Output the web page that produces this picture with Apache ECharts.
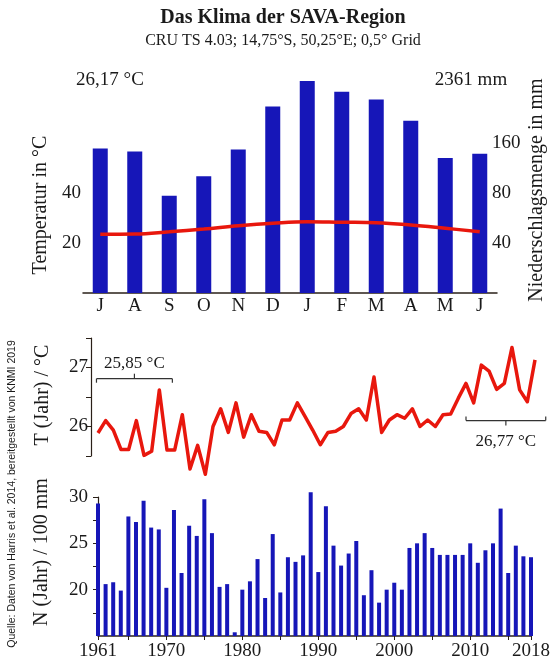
<!DOCTYPE html>
<html><head><meta charset="utf-8">
<script src="https://cdn.jsdelivr.net/npm/echarts@6/dist/echarts.min.js"></script>
<style>html,body{margin:0;padding:0;background:#fff}#c{width:553px;height:671px}</style>
</head><body><div id="c"></div>
<script>
// ---- data ----
const months = ['J','A','S','O','N','D','J','F','M','A','M','J'];
const monthPrecip = [148,142,77,101,146,265,378,326,292,218,130,138];
const monthTemp = [23.5,23.6,24.5,25.6,26.9,27.9,28.5,28.3,28.1,27.2,25.9,24.5];
const tempTicksLeft = [20,40];
const precipTicksRight = [40,80,160];
const years = [];
for (let y = 1961; y <= 2018; y++) years.push(y);
const annualTemp = [25.89,26.10,25.94,25.61,25.61,26.10,25.51,25.58,26.62,25.60,
  25.60,26.20,25.28,25.68,25.19,26.00,26.30,25.90,26.40,25.82,
  26.20,25.92,25.90,25.69,26.11,26.11,26.40,26.17,25.94,25.69,
  25.90,25.92,26.00,26.22,26.30,26.11,26.84,25.90,26.11,26.20,
  26.14,26.30,26.00,26.11,26.00,26.20,26.21,26.48,26.73,26.40,
  27.04,26.94,26.63,26.73,27.34,26.62,26.42,27.13];
const annualPrecip = [29.3,20.6,20.8,19.9,27.9,27.3,29.6,26.7,26.5,20.2,
  28.6,21.8,26.9,25.8,29.75,26.1,20.3,20.6,15.4,20.0,
  20.9,23.3,19.1,26.0,19.7,23.5,23.0,23.7,30.5,21.9,
  29.0,24.75,22.6,23.9,25.25,19.4,22.1,18.6,20.0,20.75,
  20.0,24.5,25.0,26.1,24.5,23.75,23.75,23.75,23.75,25.0,
  22.9,24.25,25.0,28.75,21.8,24.75,23.6,23.5];
const yearLabels = [1961,1970,1980,1990,2000,2010,2018];
const meanSpans = [
  {from:1960.8, to:1970.7, at:26.81, text:'25,85 °C', above:true},
  {from:2009, to:2019.4, at:26.10, text:'26,77 °C', above:false}
];

// ---- chart ----
const SERIF = "'Liberation Serif','Times New Roman',serif";
const INK = '#1a1a1a';
const AX = '#2a2018';
const BLUE = '#1616b8';
const RED = '#e8170d';
const chart = echarts.init(document.getElementById('c'));

const topMax = 88;
const pxPerUnit = 139 / 15;
const nMax = 31;
const option = {
  animation: false,
  backgroundColor: '#ffffff',
  textStyle: {fontFamily: SERIF, color: INK},
  grid: [
    {left: 83, right: 56, top: 73, height: 220},
    {left: 98, right: 18, top: 338, height: 118},
    {left: 98, right: 18, top: 636 - (nMax - 15) * pxPerUnit, height: (nMax - 15) * pxPerUnit},
    {left: 98, right: 18, top: 497, height: 12.5 * pxPerUnit}
  ],
  xAxis: [
    {gridIndex: 0, type: 'category', data: months, boundaryGap: true,
     axisLine: {show: true, lineStyle: {color: AX, width: 1.5}},
     axisTick: {show: false},
     axisLabel: {fontFamily: SERIF, fontSize: 19, color: INK, margin: 4}},
    {gridIndex: 1, type: 'value', min: 1961, max: 2018, show: false},
    {gridIndex: 2, type: 'category', data: years.map(String), boundaryGap: false,
     axisLine: {show: true, lineStyle: {color: AX, width: 1.5}},
     axisTick: {show: true, length: 4, lineStyle: {color: AX},
       interval: (i, v) => { const y = Number(v); return y % 5 === 0 || y === 1961 || y === 2018; }},
     axisLabel: {fontFamily: SERIF, fontSize: 19, color: INK, margin: 6,
       interval: (i, v) => yearLabels.includes(Number(v))}},
    {gridIndex: 3, type: 'value', min: 0, max: 1, show: false}
  ],
  yAxis: [
    {gridIndex: 0, type: 'value', min: 0, max: topMax, interval: 20,
     axisLine: {show: false}, axisTick: {show: false}, splitLine: {show: false},
     axisLabel: {fontFamily: SERIF, fontSize: 19, color: INK, margin: 2,
       formatter: v => tempTicksLeft.includes(v) ? String(v) : ''}},
    {gridIndex: 0, type: 'log', logBase: 2, min: 20, max: 20 * Math.pow(2, topMax / 20), show: false},
    {gridIndex: 0, type: 'value', min: 0, max: topMax, interval: 20, position: 'right',
     axisLine: {show: false}, axisTick: {show: false}, splitLine: {show: false},
     axisLabel: {fontFamily: SERIF, fontSize: 19, color: INK, margin: -5,
       formatter: v => { const p = Math.round(20 * Math.pow(2, v / 20)); return precipTicksRight.includes(p) ? String(p) : ''; }}},
    {gridIndex: 1, type: 'value', min: 25.5, max: 27.5, interval: 0.5, offset: 7,
     axisLine: {show: true, lineStyle: {color: AX, width: 1.2}},
     axisTick: {show: true, length: 5, lineStyle: {color: AX}},
     splitLine: {show: false},
     axisLabel: {fontFamily: SERIF, fontSize: 19, color: INK, margin: 3,
       formatter: v => Number.isInteger(v) ? String(v) : ''}},
    {gridIndex: 2, type: 'value', min: 15, max: nMax, show: false},
    {gridIndex: 3, type: 'value', min: 17.5, max: 30, interval: 2.5, offset: 7,
     axisLine: {show: true, lineStyle: {color: AX, width: 1.2}},
     axisTick: {show: true, length: 5, lineStyle: {color: AX}},
     splitLine: {show: false},
     axisLabel: {fontFamily: SERIF, fontSize: 19, color: INK, margin: 3,
       formatter: v => (v % 5 === 0) ? String(v) : ''}}
  ],
  series: [
    {type: 'bar', xAxisIndex: 0, yAxisIndex: 1, data: monthPrecip, barWidth: 15,
     itemStyle: {color: BLUE}, clip: true, z: 2},
    {type: 'line', xAxisIndex: 0, yAxisIndex: 0, data: monthTemp, smooth: 0.4,
     symbol: 'none', lineStyle: {color: RED, width: 3.5}, z: 3},
    {type: 'line', xAxisIndex: 1, yAxisIndex: 3, data: years.map((y, i) => [y, annualTemp[i]]),
     symbol: 'none', clip: false, lineStyle: {color: RED, width: 3.5, join: 'round'}},
    {type: 'bar', xAxisIndex: 2, yAxisIndex: 4, data: annualPrecip, barWidth: 4,
     itemStyle: {color: BLUE}}
  ]
};
chart.setOption(option);

const g = [];
function txt(x, y, s, size, opts) {
  opts = opts || {};
  g.push({type: 'text', x: x, y: y, rotation: opts.rot || 0, z: 10,
    style: {text: s, fontFamily: opts.font || SERIF, fontSize: size, fontWeight: opts.bold ? 'bold' : 'normal',
      fill: INK, align: 'center', verticalAlign: 'middle'}});
}
txt(283, 18, 'Das Klima der SAVA-Region', 20, {bold: true});
txt(283, 41, 'CRU TS 4.03; 14,75°S, 50,25°E; 0,5° Grid', 16);
txt(110, 80, '26,17 °C', 19);
txt(471, 80, '2361 mm', 19);
txt(41, 205, 'Temperatur in °C', 20, {rot: Math.PI / 2});
txt(537, 190, 'Niederschlagsmenge in mm', 20, {rot: Math.PI / 2});
txt(43, 395, 'T (Jahr) / °C', 20, {rot: Math.PI / 2});
txt(42, 552, 'N (Jahr) / 100 mm', 20, {rot: Math.PI / 2});
txt(12, 494, 'Quelle: Daten von Harris et al. 2014, bereitgestellt von KNMI 2019', 10.5,
  {rot: Math.PI / 2, font: "'Liberation Sans', Arial, sans-serif"});

function seg(x1, y1, x2, y2) {
  g.push({type: 'line', z: 10, shape: {x1: x1, y1: y1, x2: x2, y2: y2},
    style: {stroke: '#333', lineWidth: 1.2}});
}
meanSpans.forEach(s => {
  const a = chart.convertToPixel({xAxisIndex: 1, yAxisIndex: 3}, [s.from, s.at]);
  const b = chart.convertToPixel({xAxisIndex: 1, yAxisIndex: 3}, [s.to, s.at]);
  const cx = (a[0] + b[0]) / 2, y = a[1];
  const d = s.above ? 1 : -1;
  seg(a[0], y, b[0], y);
  seg(a[0], y, a[0], y + 4 * d);
  seg(b[0], y, b[0], y + 4 * d);
  seg(cx, y, cx, y - 5 * d);
  txt(cx, s.above ? y - 15 : y + 21, s.text, 17);
});
chart.setOption({graphic: g});
</script>
</body></html>
